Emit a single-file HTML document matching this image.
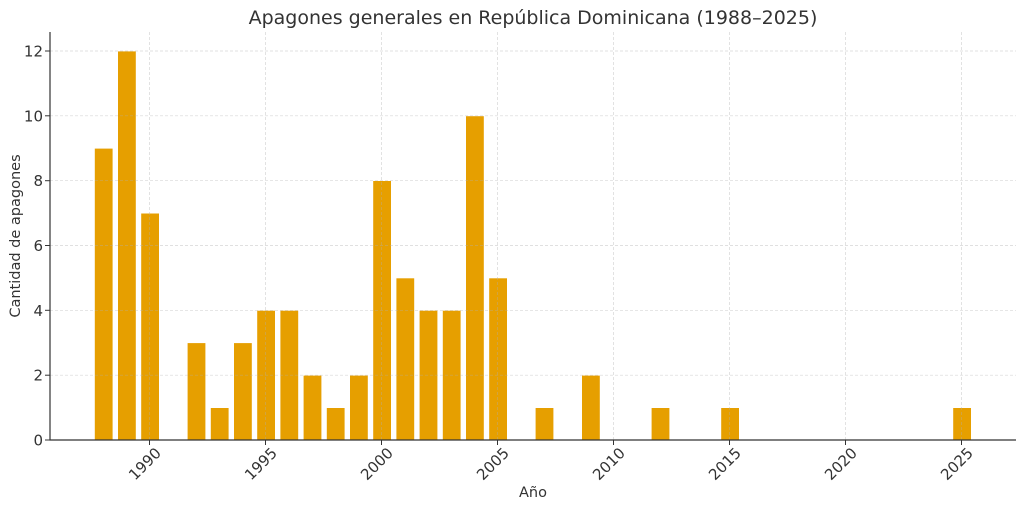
<!DOCTYPE html>
<html><head><meta charset="utf-8"><style>body{margin:0;background:#fff}svg{display:block;font-family:"DejaVu Sans","Liberation Sans",sans-serif}</style></head><body>
<svg width="1024" height="508" viewBox="0 0 1024 508">
<g fill="#E69F00" stroke="#fff" stroke-width="0.8" transform="translate(0.8,0)">
<rect x="93.6" y="148.2" width="18.6" height="291.8"/>
<rect x="116.8" y="51" width="18.6" height="389"/>
<rect x="140" y="213.1" width="18.6" height="226.9"/>
<rect x="186.4" y="342.7" width="18.6" height="97.3"/>
<rect x="209.6" y="407.6" width="18.6" height="32.4"/>
<rect x="232.8" y="342.7" width="18.6" height="97.3"/>
<rect x="256" y="310.3" width="18.6" height="129.7"/>
<rect x="279.2" y="310.3" width="18.6" height="129.7"/>
<rect x="302.4" y="375.2" width="18.6" height="64.8"/>
<rect x="325.6" y="407.6" width="18.6" height="32.4"/>
<rect x="348.8" y="375.2" width="18.6" height="64.8"/>
<rect x="372" y="180.6" width="18.6" height="259.4"/>
<rect x="395.2" y="277.9" width="18.6" height="162.1"/>
<rect x="418.4" y="310.3" width="18.6" height="129.7"/>
<rect x="441.6" y="310.3" width="18.6" height="129.7"/>
<rect x="464.8" y="115.8" width="18.6" height="324.2"/>
<rect x="488" y="277.9" width="18.6" height="162.1"/>
<rect x="534.4" y="407.6" width="18.6" height="32.4"/>
<rect x="580.8" y="375.2" width="18.6" height="64.8"/>
<rect x="650.4" y="407.6" width="18.6" height="32.4"/>
<rect x="720" y="407.6" width="18.6" height="32.4"/>
<rect x="952" y="407.6" width="18.6" height="32.4"/>
</g>
<g stroke="#b0b0b0" stroke-width="0.7" stroke-dasharray="3,2" opacity="0.5">
<line x1="50" x2="1016" y1="375.2" y2="375.2"/><line x1="50" x2="1016" y1="310.3" y2="310.3"/>
<line x1="50" x2="1016" y1="245.5" y2="245.5"/><line x1="50" x2="1016" y1="180.7" y2="180.7"/>
<line x1="50" x2="1016" y1="115.8" y2="115.8"/><line x1="50" x2="1016" y1="51" y2="51"/>
<line x1="149.5" x2="149.5" y1="32" y2="440"/><line x1="265.5" x2="265.5" y1="32" y2="440"/>
<line x1="381.5" x2="381.5" y1="32" y2="440"/><line x1="497.5" x2="497.5" y1="32" y2="440"/>
<line x1="613.5" x2="613.5" y1="32" y2="440"/><line x1="729.5" x2="729.5" y1="32" y2="440"/>
<line x1="845.5" x2="845.5" y1="32" y2="440"/><line x1="961.5" x2="961.5" y1="32" y2="440"/>
</g>
<g stroke="#333" stroke-width="1.2" fill="none">
<line x1="50" y1="32" x2="50" y2="440.5"/><line x1="49.5" y1="440" x2="1016" y2="440"/>
<g stroke-width="1">
<line x1="45" x2="50" y1="440" y2="440"/><line x1="45" x2="50" y1="375.2" y2="375.2"/><line x1="45" x2="50" y1="310.3" y2="310.3"/><line x1="45" x2="50" y1="245.5" y2="245.5"/><line x1="45" x2="50" y1="180.7" y2="180.7"/><line x1="45" x2="50" y1="115.8" y2="115.8"/><line x1="45" x2="50" y1="51" y2="51"/>
<line x1="149.5" x2="149.5" y1="440" y2="445"/><line x1="265.5" x2="265.5" y1="440" y2="445"/><line x1="381.5" x2="381.5" y1="440" y2="445"/><line x1="497.5" x2="497.5" y1="440" y2="445"/><line x1="613.5" x2="613.5" y1="440" y2="445"/><line x1="729.5" x2="729.5" y1="440" y2="445"/><line x1="845.5" x2="845.5" y1="440" y2="445"/><line x1="961.5" x2="961.5" y1="440" y2="445"/>
</g></g>
<g fill="#333" font-size="15" text-anchor="end">
<text x="43" y="445.5">0</text><text x="43" y="380.7">2</text><text x="43" y="315.8">4</text><text x="43" y="251">6</text><text x="43" y="186.2">8</text><text x="43" y="121.3">10</text><text x="43" y="56.5">12</text>
</g>
<g fill="#333" font-size="15" text-anchor="end">
<text transform="translate(162,454) rotate(-45)">1990</text>
<text transform="translate(278,454) rotate(-45)">1995</text>
<text transform="translate(394,454) rotate(-45)">2000</text>
<text transform="translate(510,454) rotate(-45)">2005</text>
<text transform="translate(626,454) rotate(-45)">2010</text>
<text transform="translate(742,454) rotate(-45)">2015</text>
<text transform="translate(858,454) rotate(-45)">2020</text>
<text transform="translate(974,454) rotate(-45)">2025</text>
</g>
<text x="533" y="24" font-size="19" fill="#333" text-anchor="middle">Apagones generales en República Dominicana (1988–2025)</text>
<text x="533" y="497" font-size="14.5" fill="#333" text-anchor="middle">Año</text>
<text transform="translate(20,236) rotate(-90)" font-size="14.5" fill="#333" text-anchor="middle">Cantidad de apagones</text>
</svg>
</body></html>
